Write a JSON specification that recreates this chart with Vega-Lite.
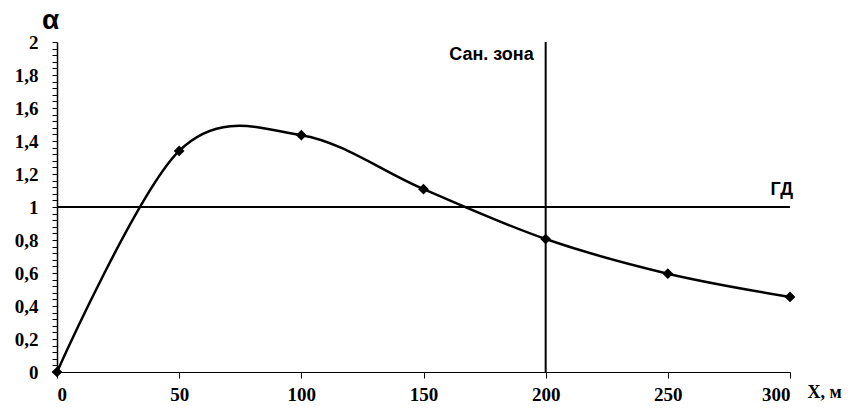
{
  "$schema": "https://vega.github.io/schema/vega-lite/v6.json",
  "autosize": {"type": "none"},
  "width": 733,
  "height": 330,
  "padding": {"left": 57, "top": 42, "right": 63, "bottom": 37},
  "background": "white",
  "config": {"view": {"stroke": null}},
  "datasets": {
    "curve": [
      {"x": 0, "a": 0},
      {"x": 50, "a": 1.34},
      {"x": 100, "a": 1.435},
      {"x": 150, "a": 1.108},
      {"x": 200, "a": 0.806},
      {"x": 250, "a": 0.596},
      {"x": 300, "a": 0.455}
    ]
  },
  "layer": [
    {
      "data": {"name": "curve"},
      "mark": {"type": "line", "color": "black", "strokeWidth": 2.5, "interpolate": "cardinal", "tension": 0},
      "encoding": {
        "x": {
          "field": "x", "type": "quantitative",
          "scale": {"domain": [0, 300], "nice": false, "zero": false},
          "axis": {
            "values": [0, 50, 100, 150, 200, 250, 300],
            "tickCount": 20,
            "grid": false,
            "domainColor": "black",
            "domainWidth": 1,
            "tickColor": "black",
            "tickSize": 6,
            "labelFont": "Liberation Serif",
            "labelFontWeight": "bold",
            "labelFontSize": 19,
            "labelColor": "black",
            "labelPadding": 7,
            "labelBaseline": "top",
            "labelOverlap": false,
            "title": "X, м",
            "titleFont": "Liberation Serif",
            "titleFontWeight": "bold",
            "titleFontSize": 18,
            "titleColor": "black",
            "titleAlign": "left",
            "titleBaseline": "alphabetic",
            "titleAnchor": "start",
            "titleX": 750,
            "titleY": 25
          }
        },
        "y": {
          "field": "a", "type": "quantitative",
          "scale": {"domain": [0, 2], "nice": false},
          "axis": {
            "values": [0,0.04,0.08,0.12,0.16,0.2,0.24,0.28,0.32,0.36,0.4,0.44,0.48,0.52,0.56,0.6,0.64,0.68,0.72,0.76,0.8,0.84,0.88,0.92,0.96,1,1.04,1.08,1.12,1.16,1.2,1.24,1.28,1.32,1.36,1.4,1.44,1.48,1.52,1.56,1.6,1.64,1.68,1.72,1.76,1.8,1.84,1.88,1.92,1.96,2],
            "tickCount": 100,
            "labelExpr": "abs(datum.value*5 - round(datum.value*5)) < 0.001 ? replace(toString(round(datum.value*10)/10), '.', ',') : ''",
            "labelOverlap": false,
            "grid": false,
            "domainColor": "black",
            "domainWidth": 1.5,
            "tickColor": "black",
            "tickSize": 5,
            "labelFont": "Liberation Serif",
            "labelFontWeight": "bold",
            "labelFontSize": 19,
            "labelColor": "black",
            "labelPadding": 14,
            "title": "α",
            "titleFont": "Liberation Sans",
            "titleFontWeight": "bold",
            "titleFontSize": 28,
            "titleColor": "black",
            "titleAngle": 0,
            "titleAlign": "center",
            "titleBaseline": "alphabetic",
            "titleX": -7,
            "titleY": -14
          }
        }
      }
    },
    {
      "data": {"values": [{"x1": 0, "x2": 300, "y": 1}]},
      "mark": {"type": "rule", "color": "black", "strokeWidth": 2},
      "encoding": {
        "x": {"field": "x1", "type": "quantitative"},
        "x2": {"field": "x2"},
        "y": {"field": "y", "type": "quantitative"}
      }
    },
    {
      "data": {"values": [{"x": 200, "y1": 0, "y2": 2}]},
      "mark": {"type": "rule", "color": "black", "strokeWidth": 2},
      "encoding": {
        "x": {"field": "x", "type": "quantitative"},
        "y": {"field": "y1", "type": "quantitative"},
        "y2": {"field": "y2"}
      }
    },
    {
      "data": {"name": "curve"},
      "mark": {"type": "point", "shape": "diamond", "filled": true, "color": "black", "size": 115, "opacity": 1},
      "encoding": {
        "x": {"field": "x", "type": "quantitative"},
        "y": {"field": "a", "type": "quantitative"}
      }
    },
    {
      "data": {"values": [{"x": 200, "y": 1.92, "t": "Сан. зона"}]},
      "mark": {"type": "text", "align": "right", "baseline": "middle", "dx": -12, "font": "Liberation Sans", "fontWeight": "bold", "fontSize": 18, "color": "black"},
      "encoding": {
        "x": {"field": "x", "type": "quantitative"},
        "y": {"field": "y", "type": "quantitative"},
        "text": {"field": "t"}
      }
    },
    {
      "data": {"values": [{"x": 300, "y": 1, "t": "ГД"}]},
      "mark": {"type": "text", "align": "right", "baseline": "alphabetic", "dx": 3, "dy": -12, "font": "Liberation Sans", "fontWeight": "bold", "fontSize": 18, "color": "black"},
      "encoding": {
        "x": {"field": "x", "type": "quantitative"},
        "y": {"field": "y", "type": "quantitative"},
        "text": {"field": "t"}
      }
    }
  ]
}
